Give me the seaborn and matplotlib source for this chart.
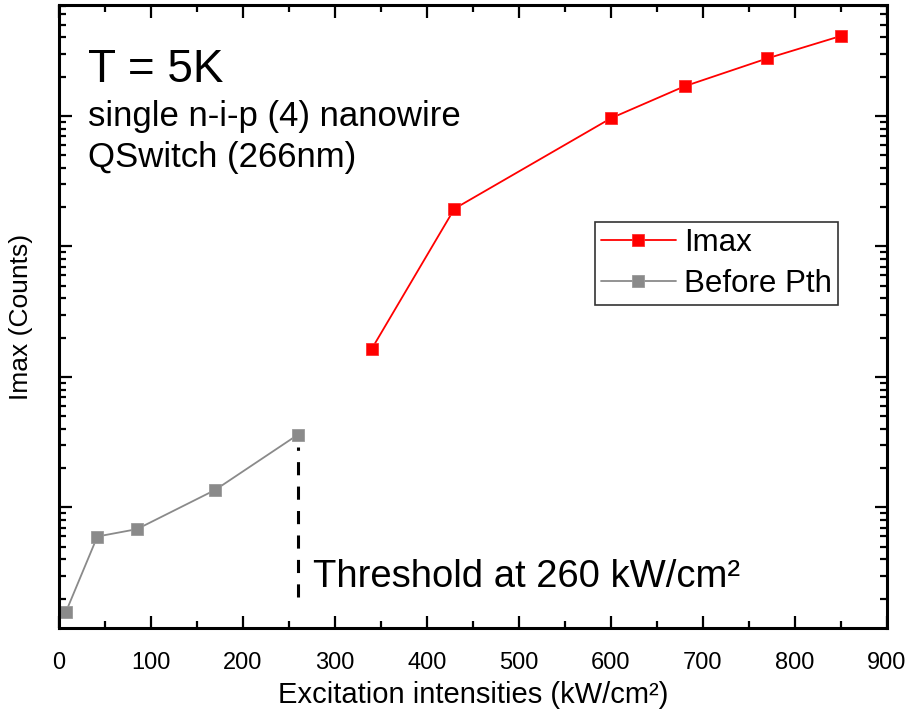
import numpy as np
import pandas as pd
import matplotlib
matplotlib.use("Agg")
import matplotlib.pyplot as plt
import seaborn as sns
from matplotlib.ticker import LogLocator, MultipleLocator, NullFormatter

# data (y axis is log, no tick labels)
imax_x = [340, 430, 600, 680, 770, 850]
imax_y = [1633, 19450, 95950, 168700, 276000, 410000]
before_x = [8, 42, 85, 170, 260]
before_y = [15.9, 59.8, 68.1, 136, 361]
threshold_x = 260
threshold_y = [20.6, 291]
x_ticks = [0, 100, 200, 300, 400, 500, 600, 700, 800, 900]

sns.set_style("ticks")
plt.rcParams['font.family'] = ['Liberation Sans', 'DejaVu Sans']
plt.rcParams['text.color'] = 'black'
plt.rcParams['axes.labelcolor'] = 'black'
plt.rcParams['xtick.color'] = 'black'
plt.rcParams['ytick.color'] = 'black'

fig = plt.figure(figsize=(9.07, 7.24), dpi=100)
W, H = 907, 724
ax = fig.add_axes([58.7 / W, 1 - 628 / H, (887 - 58.7) / W, (628 - 5) / H])

df_imax = pd.DataFrame({"x": imax_x, "y": imax_y})
df_before = pd.DataFrame({"x": before_x, "y": before_y})

sns.lineplot(data=df_imax, x="x", y="y", ax=ax, color="#ff0000", lw=1.3,
             marker="s", markersize=9, markeredgecolor="#ff3030",
             markeredgewidth=0.6, label="Imax")
sns.lineplot(data=df_before, x="x", y="y", ax=ax, color="#8a8a8a", lw=1.3,
             marker="s", markersize=9, markeredgecolor="#9a9a9a",
             markeredgewidth=0.6, label="Before Pth")

ax.vlines(threshold_x, threshold_y[0], threshold_y[1], colors="black",
          linewidth=2.2, linestyles=(0, (4.3, 3.7)))

ax.set_yscale("log")
ax.set_xlim(0, 900)
ax.set_ylim(11.9, 7.08e5)
ax.set_xticks(x_ticks)
ax.xaxis.set_minor_locator(MultipleLocator(50))
ax.yaxis.set_major_locator(LogLocator(base=10, numticks=20))
ax.yaxis.set_minor_locator(LogLocator(base=10, subs=np.arange(2, 10), numticks=20))
ax.yaxis.set_major_formatter(NullFormatter())
ax.yaxis.set_minor_formatter(NullFormatter())

for side in ax.spines.values():
    side.set_linewidth(2.2)
    side.set_color("black")
    side.set_visible(True)

ax.tick_params(which="both", direction="in", top=True, right=True,
               color="black", width=1.6)
ax.tick_params(which="major", length=9)
ax.tick_params(which="minor", length=5)
ax.tick_params(axis="x", which="major", labelsize=17, pad=17)

ax.set_xlabel("Excitation intensities (kW/cm²)", fontsize=21, labelpad=5)
ax.set_ylabel("Imax (Counts)", fontsize=19, labelpad=15)

ax.text(0.0354, 0.877, "T = 5K", transform=ax.transAxes, fontsize=33,
        va="baseline", ha="left")
ax.text(0.0354, 0.806, "single n-i-p (4) nanowire", transform=ax.transAxes,
        fontsize=25, va="baseline", ha="left")
ax.text(0.0354, 0.740, "QSwitch (266nm)", transform=ax.transAxes,
        fontsize=25, va="baseline", ha="left")
ax.text(0.307, 0.0664, "Threshold at 260 kW/cm²", transform=ax.transAxes,
        fontsize=27.5, va="baseline", ha="left")

leg = ax.legend(loc="upper left", bbox_to_anchor=(0.647, 0.652),
                borderaxespad=0, fontsize=22.5, frameon=True, fancybox=False,
                handlelength=2.4, handletextpad=0.26, labelspacing=0.35,
                borderpad=0.2, numpoints=1)
leg.get_frame().set_edgecolor("#333333")
leg.get_frame().set_linewidth(1.2)
leg.get_frame().set_alpha(1)

fig.savefig("out.png", dpi=100)
